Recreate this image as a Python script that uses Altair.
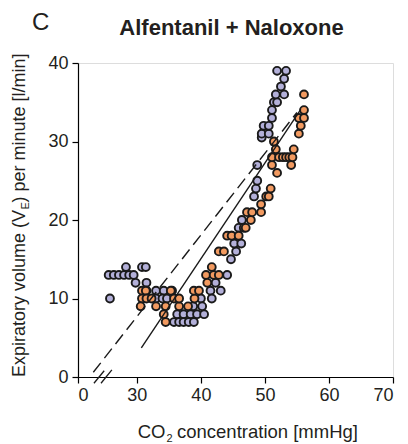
import altair as alt
import pandas as pd

# ---- data ----
purple_x = [25.8, 25.6, 26.4, 27.2, 28.0, 28.8, 29.5, 28.3, 30.8, 31.4, 29.8, 31.5,
            31.5, 33.0, 34.2, 35.5, 33.0, 34.0, 34.7,
            36.3, 37.3, 38.4, 39.4, 40.5, 35.8, 36.6, 37.3, 38.1, 38.9,
            40.0, 40.2, 38.8, 41.5, 43.1, 41.7, 42.3,
            44.1, 44.7, 45.5, 45.2, 46.3, 44.8, 45.9, 46.4,
            48.3, 48.6, 48.8, 48.8,
            49.5, 49.5, 50.6, 49.8, 50.6, 51.1, 51.1, 51.4, 51.9, 51.7, 53.0, 52.5, 53.0, 51.9, 53.3]
purple_y = [10, 13, 13, 13, 13, 13, 13, 14, 14, 14, 12, 12,
            11, 11, 11, 11, 10, 10, 10,
            8, 8, 8, 8, 8, 7, 7, 7, 7, 7,
            10, 9, 9, 11, 11, 10, 12,
            13, 15, 16, 17, 17, 18, 19, 20,
            23, 24, 25, 27,
            30.5, 31, 31, 32, 32, 33, 34, 35, 35, 36, 36, 37, 38, 39, 39]

orange_x = [30.8, 31.4, 35.3, 30.8, 31.5, 32.3, 35.8, 30.6, 33.0, 34.5, 36.6, 38.0, 34.2, 34.5,
            39.0, 38.9, 39.7, 36.6,
            40.8, 41.0, 41.7, 42.0, 42.8, 42.8, 43.6,
            44.1, 44.8, 45.9, 46.7, 47.0, 47.8, 47.2, 48.0, 49.4, 49.4,
            50.2, 50.6, 50.9, 51.9, 51.1, 54.1,
            51.1, 52.2, 52.8, 53.3, 53.8, 54.3, 51.7, 54.5,
            51.4, 55.3, 55.6, 55.3, 56.1, 56.1, 56.1]
orange_y = [11, 11, 11, 10, 10, 10, 10, 9, 9, 9, 9, 9, 8, 7,
            10, 11, 11, 10,
            13, 12, 14, 13, 13, 16, 16,
            18, 18, 18, 19, 19, 20, 21, 21, 21, 22,
            23, 23, 24, 26, 27, 27,
            28, 28, 28, 28, 28, 28, 29, 29,
            30, 31, 32, 33, 33, 34, 36]

dashed_x = [23.2, 55.0]
dashed_y = [0.6, 33.7]
solid_x = [30.7, 55.6]
solid_y = [3.7, 34.1]

break_x1 = [23.3, 24.4]
break_y1 = [-0.8, -0.8]
break_x2 = [24.9, 26.1]
break_y2 = [0.8, 0.9]

x_ticks = [20.81, 30, 40, 50, 60, 70]
y_ticks = [0, 10, 20, 30, 40]

FONT = "Liberation Sans"
TXT = "#231f20"

xs = alt.Scale(domain=[20.81, 70], nice=False, zero=False)
ys = alt.Scale(domain=[0, 40], nice=False)

xax = alt.Axis(values=x_ticks, labelExpr="datum.value < 25 ? '0' : datum.label",
               title=None, grid=False, domainColor="black", tickColor="black",
               tickSize=6, domainWidth=1.2, tickWidth=1.2, labelFontSize=18,
               labelFont=FONT, labelColor=TXT, labelPadding=3)
yax = alt.Axis(values=y_ticks, title=None, grid=False, domainColor="black",
               tickColor="black", tickSize=6, domainWidth=1.2, tickWidth=1.2,
               labelFontSize=18, labelFont=FONT, labelColor=TXT, labelPadding=4)

pdf = pd.DataFrame({"x": purple_x, "y": purple_y})
odf = pd.DataFrame({"x": orange_x, "y": orange_y})

purple = alt.Chart(pdf).mark_circle(size=62, fill="#b3b0d9", stroke="#1a1a1a",
                                    strokeWidth=1.9, opacity=1, fillOpacity=1).encode(
    x=alt.X("x:Q", scale=xs, axis=xax), y=alt.Y("y:Q", scale=ys, axis=yax))
orange = alt.Chart(odf).mark_circle(size=62, fill="#f29a60", stroke="#1a1a1a",
                                    strokeWidth=1.9, opacity=1, fillOpacity=1).encode(
    x=alt.X("x:Q", scale=xs), y=alt.Y("y:Q", scale=ys))

dashed = alt.Chart(pd.DataFrame({"x": dashed_x, "y": dashed_y})).mark_line(
    color="#1a1a1a", strokeWidth=1.4, strokeDash=[12, 6]).encode(
    x=alt.X("x:Q", scale=xs), y=alt.Y("y:Q", scale=ys))
solid = alt.Chart(pd.DataFrame({"x": solid_x, "y": solid_y})).mark_line(
    color="#1a1a1a", strokeWidth=1.4).encode(
    x=alt.X("x:Q", scale=xs), y=alt.Y("y:Q", scale=ys))

brk = alt.Chart(pd.DataFrame({"x": break_x1, "y": break_y1, "x2": break_x2, "y2": break_y2})).mark_rule(
    color="#1a1a1a", strokeWidth=1.3).encode(
    x=alt.X("x:Q", scale=xs), y=alt.Y("y:Q", scale=ys), x2="x2:Q", y2="y2:Q")

one = pd.DataFrame({"d": [0]})

def txt(text, x, y, size, **kw):
    return alt.Chart(one).mark_text(text=text, font=FONT, fontSize=size, color=TXT, **kw).encode(
        x=alt.value(x), y=alt.value(y))

texts = [
    txt("C", -46, -33, 24, align="left", baseline="alphabetic"),
    txt("Alfentanil + Naloxone", 153.5, -28.5, 22, align="center", baseline="alphabetic", fontWeight="bold"),
    txt("CO", 87.5, 375, 18.5, align="right", baseline="alphabetic"),
    txt("2", 88.5, 379, 11, align="left", baseline="alphabetic"),
    txt("concentration [mmHg]", 99, 375, 18.5, align="left", baseline="alphabetic"),
    txt("Expiratory volume (V", -53, 147, 18, align="right", baseline="alphabetic", angle=270),
    txt("E", -49.5, 146.5, 11, align="left", baseline="alphabetic", angle=270),
    txt(") per minute [l/min]", -53, 139.5, 18, align="left", baseline="alphabetic", angle=270),
]

chart = alt.layer(purple, orange, dashed, solid, brk, *texts).properties(
    width=315, height=314,
    autosize=alt.AutoSizeParams(type="none"),
    padding={"left": 78, "top": 63, "right": 15, "bottom": 67},
).configure_view(stroke=None).configure(background="white")

chart.save("out.html", embed_options={"renderer": "svg", "actions": False})
